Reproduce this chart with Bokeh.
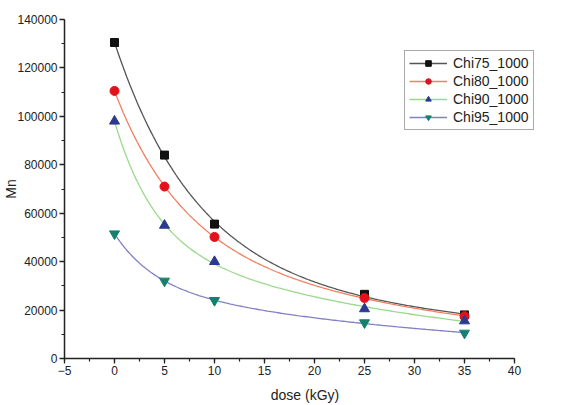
import numpy as np
from bokeh.plotting import figure
from bokeh.models import Legend, LegendItem, Range1d, FixedTicker, NumeralTickFormatter
from bokeh.embed import file_html
from bokeh.resources import INLINE

dose = [0, 5, 10, 25, 35]
chi75 = [130500, 84000, 55500, 26500, 18000]
chi80 = [110500, 71000, 50200, 25000, 17500]
chi90 = [98000, 55000, 40000, 20500, 15500]
chi95 = [51500, 32000, 24000, 14800, 10500]
labels = ["Chi75_1000", "Chi80_1000", "Chi90_1000", "Chi95_1000"]
x_ticks = [-5, 0, 5, 10, 15, 20, 25, 30, 35, 40]
y_ticks = [0, 20000, 40000, 60000, 80000, 100000, 120000, 140000]

series = [chi75, chi80, chi90, chi95]
marker_colors = ["#111111", "#e3111b", "#2b3990", "#16806e"]
line_colors = ["#555555", "#f08060", "#99d98a", "#8080c8"]
markers = ["square", "circle", "triangle", "inverted_triangle"]
sizes = [8, 9, 10, 10]


def fit_expdec2(x, y):
    x = np.asarray(x, float)
    y = np.asarray(y, float)
    best = None
    for t1 in np.linspace(0.5, 40, 80):
        for t2 in np.linspace(t1, 300, 80):
            B = np.column_stack([np.exp(-x / t1), np.exp(-x / t2)])
            c, *_ = np.linalg.lstsq(B, y, rcond=None)
            if np.any(c < 0):
                continue
            r = np.sum((B @ c - y) ** 2)
            if best is None or r < best[0]:
                best = (r, t1, t2, c)
    _, t1, t2, c = best
    xs = np.linspace(x.min(), x.max(), 200)
    return xs, c[0] * np.exp(-xs / t1) + c[1] * np.exp(-xs / t2)


p = figure(width=563, height=405, output_backend="svg", toolbar_location=None,
           x_range=Range1d(-5, 43.1), y_range=Range1d(0, 140000),
           min_border_left=64, min_border_right=18, min_border_top=19,
           min_border_bottom=46)
p.outline_line_color = None
p.xgrid.visible = False
p.ygrid.visible = False
p.background_fill_color = "white"

items = []
for s, mc, lc, mk, sz, lab in zip(series, marker_colors, line_colors, markers, sizes, labels):
    xs, ys = fit_expdec2(dose, s)
    lr = p.line(xs, ys, line_color=lc, line_width=1.3)
    sr = p.scatter(dose, s, marker=mk, size=sz, fill_color=mc, line_color=mc)
    items.append(LegendItem(label=lab, renderers=[lr, sr]))

font = "Liberation Sans"
for ax in (p.xaxis[0], p.yaxis[0]):
    ax.axis_line_width = 1.5
    ax.axis_line_color = "#222222"
    ax.major_tick_line_color = "#222222"
    ax.minor_tick_line_color = "#222222"
    ax.major_tick_line_width = 1.3
    ax.minor_tick_line_width = 1.2
    ax.major_tick_out = 5
    ax.major_tick_in = 0
    ax.minor_tick_out = 3
    ax.minor_tick_in = 0
    ax.major_label_standoff = 2
    ax.major_label_text_font = font
    ax.major_label_text_font_size = "12px"
    ax.major_label_text_color = "#222222"
    ax.axis_label_text_font = font
    ax.axis_label_text_font_style = "normal"
    ax.axis_label_text_color = "#222222"
    ax.axis_label_text_font_size = "14px"

p.xaxis[0].ticker = FixedTicker(ticks=x_ticks, minor_ticks=list(np.arange(-5, 40.1, 2.5)))
p.yaxis[0].ticker = FixedTicker(ticks=y_ticks, minor_ticks=list(range(0, 140001, 10000)))
p.xaxis[0].bounds = (-5, 40)
p.yaxis[0].bounds = (0, 140000)
p.yaxis[0].formatter = NumeralTickFormatter(format="0")
p.xaxis.axis_label = "dose (kGy)"
p.yaxis.axis_label = "Mn"
p.xaxis.axis_label_standoff = 9
p.yaxis.axis_label_standoff = -5
p.yaxis.major_label_orientation = "horizontal"

legend = Legend(items=items, location=(340, 228))
legend.label_text_font = font
legend.label_text_font_size = "14px"
legend.label_text_color = "#222222"
legend.border_line_color = "#555555"
legend.border_line_width = 1
legend.glyph_width = 38
legend.glyph_height = 14
legend.spacing = 2
legend.padding = 4
legend.margin = 0
legend.label_standoff = 6
legend.label_height = 14
legend.background_fill_alpha = 1
p.add_layout(legend, "center")

open("out.html", "w").write(file_html(p, INLINE))
